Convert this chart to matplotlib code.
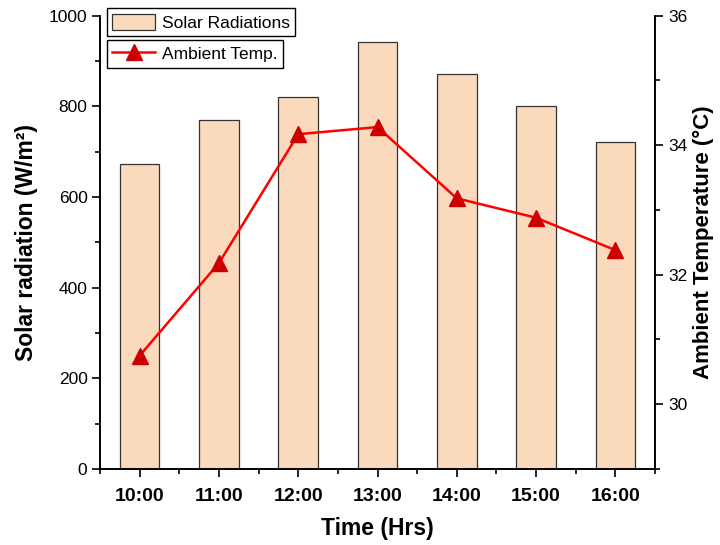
import numpy as np
import matplotlib
matplotlib.use("Agg")
import matplotlib.pyplot as plt
from matplotlib.ticker import MultipleLocator

plt.rcParams['font.family'] = ['Liberation Sans', 'DejaVu Sans']

hours = ["10:00", "11:00", "12:00", "13:00", "14:00", "15:00", "16:00"]
solar = [672, 770, 821, 942, 871, 800, 722]
temp = [30.75, 32.18, 34.17, 34.28, 33.18, 32.88, 32.38]

x = np.arange(len(hours))

fig = plt.figure(figsize=(7.2, 5.45), dpi=100)
ax = fig.add_axes([100/720, 1-469/545, 555/720, (469-15.7)/545])
ax2 = ax.twinx()

bars = ax.bar(x, solar, width=0.5, color='#FAD9BC', edgecolor='#333333', linewidth=0.9,
              label='Solar Radiations')
line, = ax2.plot(x, temp, color='#FF0000', linewidth=1.8, marker='^', markersize=11,
                 markerfacecolor='#CC0000', markeredgecolor='#CC0000', label='Ambient Temp.')

ax.set_xlim(-0.5, 6.5)
ax.set_ylim(0, 1000)
ax2.set_ylim(29, 36)

ax.set_xticks(x)
ax.set_xticklabels(hours, fontweight='bold', fontsize=14)
ax.xaxis.set_minor_locator(MultipleLocator(0.5))
ax.yaxis.set_major_locator(MultipleLocator(200))
ax.yaxis.set_minor_locator(MultipleLocator(100))
ax2.yaxis.set_major_locator(MultipleLocator(2))
ax2.yaxis.set_minor_locator(MultipleLocator(1))

for a in (ax, ax2):
    a.spines['top'].set_visible(False)
    for s in a.spines.values():
        s.set_linewidth(1.2)
    a.tick_params(which='major', direction='out', length=6, width=1.2, labelsize=12.5)
    a.tick_params(which='minor', direction='out', length=3.5, width=1.2)
ax.tick_params(axis='x', which='major', pad=8, labelsize=14)
ax.tick_params(axis='y', which='major', pad=3)

ax.set_xlabel("Time (Hrs)", fontsize=16.5, fontweight='bold', labelpad=8)
ax.set_ylabel("Solar radiation (W/m²)", fontsize=16.5, fontweight='bold', labelpad=8)
ax2.set_ylabel("Ambient Temperature (°C)", fontsize=16, fontweight='bold', labelpad=4)

leg_kw = dict(loc='upper left', fontsize=12.5, frameon=True, fancybox=False, framealpha=1,
              edgecolor='black', borderpad=0.3, handlelength=2.5, handleheight=1.1,
              handletextpad=0.4, borderaxespad=0, bbox_transform=fig.transFigure)
leg1 = ax2.legend(handles=[bars], bbox_to_anchor=(106.7/720, 1-8.3/545), **leg_kw)
leg1.get_frame().set_linewidth(1.0)
ax2.add_artist(leg1)
leg2 = ax2.legend(handles=[line], bbox_to_anchor=(106.7/720, 1-40/545), **leg_kw)
leg2.get_frame().set_linewidth(1.0)

fig.savefig("out.png", dpi=100)
